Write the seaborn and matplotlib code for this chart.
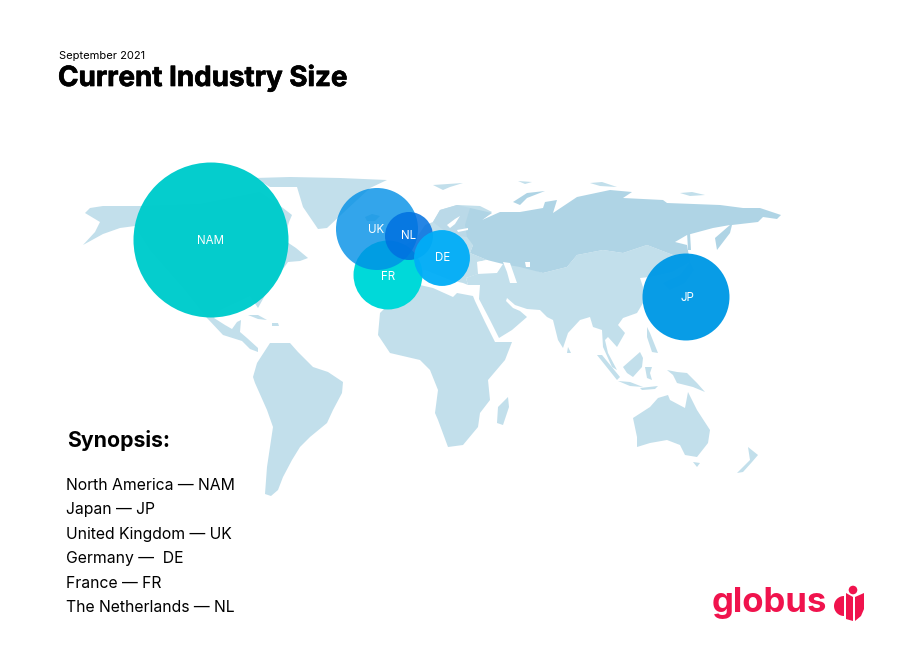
import matplotlib
matplotlib.use("Agg")
import matplotlib.pyplot as plt
import matplotlib.patheffects as pe
from matplotlib.patches import Polygon, Circle, Wedge
import pandas as pd
import seaborn as sns

# ---- data ----
regions = ["NAM", "JP", "FR", "UK", "NL", "DE"]
industry_size = [100, 31.5, 19.8, 28, 9.6, 13]
map_x = [211, 686, 388, 377, 409, 442]
map_y = [240, 297, 275, 229, 236, 258]
label_x = [211, 687, 388, 376, 409, 443]
label_y = [240.5, 298, 277, 230, 236, 258]
title_small = "September 2021"
title_big = "Current Industry Size"
synopsis_title = "Synopsis:"
synopsis_lines = ["North America — NAM", "Japan — JP", "United Kingdom — UK",
                  "Germany —  DE", "France — FR", "The Netherlands — NL"]

# ---- background map outlines (figure pixels) ----
land_light = [
    # North + Central America
    [(85,213),(90,208),(103,206),(140,206),(200,204),(260,192),(283,208),(292,215),(289,222),(284,240),(296,248),(308,258),(300,261),(288,262),
     (268,290),(258,308),(250,296),(220,310),(214,318),(225,325),(232,329),(237,322),(241,320),(240,332),(247,338),(258,348),(258,352),
     (250,349),(242,341),(223,335),(207,318),(185,290),(150,250),(135,226),(120,228),(103,234),(83,245),(95,232),(100,222)],
    # Greenland and Arctic Canada
    [(255,178),(290,177),(340,178),(387,180),(370,188),(343,213),(327,228),(318,229),(303,207),(297,187),(270,187)],
    [(248,315),(258,315),(267,320),(258,319)], [(272,323),(278,323),(279,326),(272,326)],
    # South America
    [(253,377),(257,363),(270,343),(290,343),(298,352),(313,367),(328,372),(343,382),(342,393),(333,410),(327,423),(310,437),
     (300,447),(292,460),(283,477),(278,490),(271,496),(265,494),(267,467),(273,427),(267,410),(255,383)],
    # Africa
    [(380,313),(395,298),(420,285),(433,288),(453,297),(457,293),(473,296),(475,301),(485,322),(495,342),(512,342),(505,360),(488,380),
     (490,400),(480,413),(478,427),(463,445),(448,447),(438,420),(435,413),(438,390),(430,370),(420,360),(390,353),(378,335)],
    [(508,397),(509,407),(503,425),(497,423),(498,407)],
    # Europe
    [(433,222),(440,210),(457,205),(480,206),(492,212),(482,220),(478,232),(473,245),(470,253),(487,260),(477,262),(478,274),(466,278),
     (468,285),(463,283),(450,280),(425,270),(400,275),(385,285),(370,278),(385,255),(415,240),(425,225)],
    # Asia
    [(468,285),(466,278),(477,274),(497,273),(503,264),(520,265),(543,273),(567,267),(577,255),(603,250),(623,253),
     (647,245),(660,250),(673,255),(690,262),(672,272),(650,277),(640,278),(643,287),(643,303),(637,313),(623,318),(618,325),(625,333),
     (617,347),(608,337),(605,340),(608,353),(617,370),(612,367),(603,347),(602,330),(593,327),(590,317),(580,320),(568,333),(563,348),
     (558,340),(553,320),(547,317),(540,310),(527,309),(515,305),(507,298),(506,301),(513,308),(520,311),(527,317),(512,330),(499,338),
     (490,320),(479,299),(480,285)],
    # Southeast Asia and Oceania
    [(597,355),(602,355),(620,377),(617,380)], [(618,381),(630,382),(643,387),(630,386)],
    [(623,367),(640,352),(643,358),(642,367),(633,377),(627,373)], [(645,367),(652,367),(650,373),(652,380),(647,378)],
    [(647,327),(650,333),(658,353),(652,352),(647,337)],
    [(667,370),(677,372),(687,373),(697,383),(705,392),(693,387),(677,383),(673,375)],
    [(640,388),(658,386),(655,389),(642,390)], [(568,347),(571,353),(567,353)],
    [(633,418),(650,407),(658,398),(668,395),(670,400),(685,408),(688,392),(697,410),(710,430),(708,443),(697,457),(685,455),(680,445),
     (667,440),(650,443),(637,447),(637,437)],
    [(693,462),(700,463),(697,467)], [(748,447),(758,455),(752,462),(743,472),(737,473),(750,460)],
    # Japan
    [(663,283),(680,275),(690,262),(694,270),(685,283),(670,290)],
    # Iceland and northern islands
    [(365,217),(372,214),(380,216),(375,221),(367,221)],
    [(433,185),(463,183),(450,187),(443,190)], [(518,181),(532,182),(525,184)], [(590,183),(602,182),(617,187),(600,186)],
    [(680,193),(692,192),(705,195),(690,196)],
]
land_mid = [
    # Scandinavia
    [(433,222),(440,210),(457,205),(470,208),(467,237),(450,235)],
]
land_dark = [
    # Russia
    [(467,237),(465,225),(470,208),(492,213),(482,220),(500,212),(520,212),(543,208),(545,202),(557,200),(553,213),(577,197),(610,190),
     (632,192),(623,198),(663,200),(667,203),(720,205),(743,208),(760,208),(781,215),(777,219),(763,217),(758,222),(732,225),(730,233),
     (717,250),(715,238),(730,225),(713,228),(687,235),(675,242),(687,245),(690,262),(673,255),(660,250),(647,245),(623,253),(603,250),
     (577,255),(567,267),(543,273),(520,267),(503,264),(487,260),(470,253),(473,245)],
    [(513,202),(527,193),(545,191),(527,198),(520,205)],
    [(687,232),(690,233),(691,250),(688,250)],
]
water = [
    [(447,225),(455,219),(460,216),(455,224),(450,228)],
    [(457,230),(468,228),(468,230),(458,232)],
    [(477,262),(487,260),(495,265),(492,272),(482,273)],
    [(503,262),(510,263),(517,283),(510,283),(507,272)],
    [(525,262),(530,262),(530,267),(526,267)],
]
logo_text = "globus"

# ---- figure ----
sns.set_theme(style="white")
plt.rcParams["font.family"] = ["Inter", "DejaVu Sans"]
fig = plt.figure(figsize=(9, 6.58), dpi=100, facecolor="white")
ax = fig.add_axes([0, 0, 1, 1])

for poly in land_light:
    ax.add_patch(Polygon(poly, closed=True, fc="#C2DFEB", ec="none", zorder=1))
for poly in land_mid:
    ax.add_patch(Polygon(poly, closed=True, fc="#BAD9E8", ec="none", zorder=1.05))
for poly in land_dark:
    ax.add_patch(Polygon(poly, closed=True, fc="#AFD4E5", ec="none", zorder=1.1))
for poly in water:
    ax.add_patch(Polygon(poly, closed=True, fc="white", ec="none", zorder=1.2))

df = pd.DataFrame({"region": regions, "size": industry_size, "x": map_x, "y": map_y})
palette = {"NAM": (0.0, 0.80, 0.80, 0.98), "JP": (0.0, 0.60, 0.90, 0.97), "FR": (0.0, 0.85, 0.85, 1.0),
           "UK": (0.0, 0.56, 0.90, 0.80), "NL": (0.0, 0.44, 0.88, 0.85), "DE": (0.0, 0.68, 0.97, 0.95)}
max_pts2 = (2 * 77.5 * 0.72) ** 2
sns.scatterplot(data=df, x="x", y="y", hue="region", palette=palette, size="size",
                size_norm=(0, 100), sizes=(0, max_pts2), linewidth=0, legend=False,
                alpha=None, ax=ax, zorder=3)
ax.set_xlim(0, 900)
ax.set_ylim(658, 0)
ax.axis("off")

for r, x, y in zip(regions, label_x, label_y):
    ax.text(x, y, r, color="white", ha="center", va="center", fontsize=8.3, zorder=4)

heavy = [pe.withStroke(linewidth=0.5, foreground="black")]
ax.text(59, 56, title_small, fontsize=8, color="black", ha="left", va="center")
ax.text(58, 78.5, title_big, fontsize=20, fontweight="bold", color="black", ha="left", va="center", path_effects=heavy)
ax.text(67, 440.5, synopsis_title, fontsize=15.3, fontweight="bold", color="black", ha="left", va="center")
for i, line in enumerate(synopsis_lines):
    ax.text(66, 485.5 + i * 24.4, line, fontsize=11.35, color="black", ha="left", va="center")

# logo
red = "#F0134D"
ax.text(712, 603, logo_text, fontsize=25, fontweight="bold", color=red, ha="left", va="center", zorder=5)
ax.add_patch(Circle((853, 590), 4.3, fc=red, ec="none", zorder=5))
ax.add_patch(Wedge((844, 606), 10, 90, 270, fc=red, ec="none", zorder=5))
ax.add_patch(Polygon([(846, 593), (853, 597), (853, 621), (846, 619)], fc=red, ec="none", zorder=5))
ax.add_patch(Polygon([(855, 597), (864, 593), (864, 609), (861, 616), (855, 621)], fc=red, ec="none", zorder=5))

fig.savefig("out.png", dpi=100, facecolor="white")
